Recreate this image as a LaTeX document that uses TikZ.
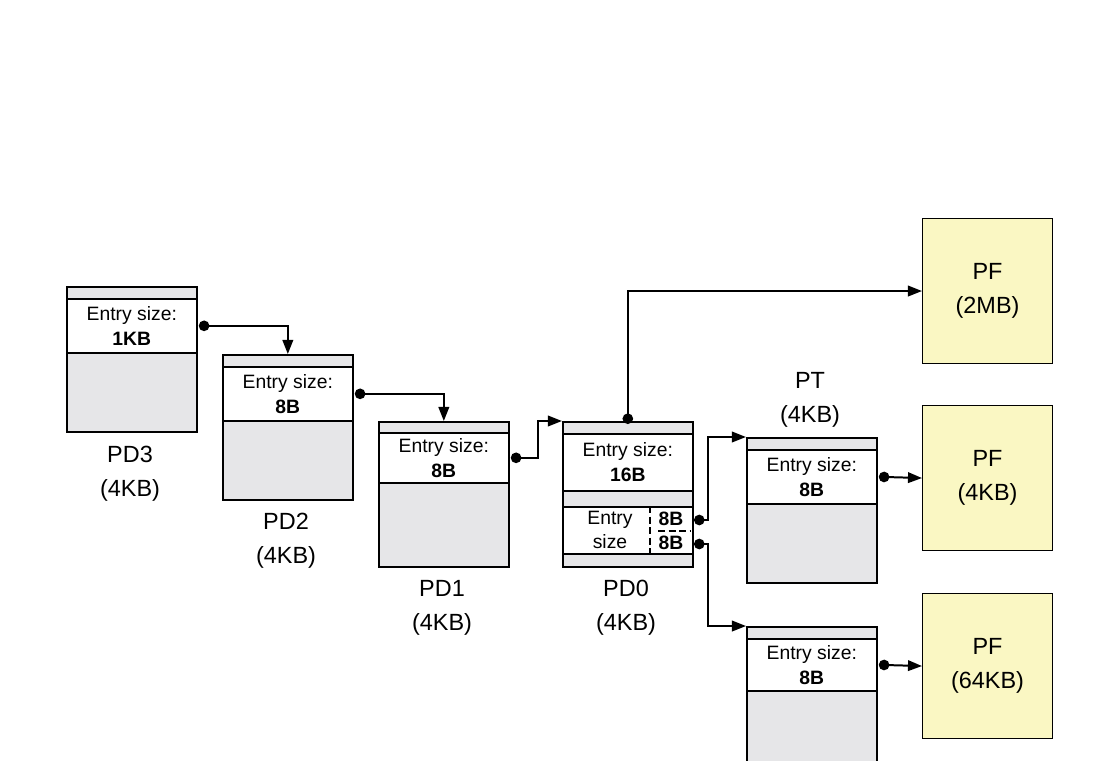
\documentclass[tikz,border=0pt]{standalone}
\usepackage{fontspec}
\setmainfont{Liberation Sans}
\usetikzlibrary{arrows.meta,positioning,calc}
\definecolor{tblgray}{HTML}{E6E6E8}
\definecolor{pfyellow}{HTML}{FAF7C3}

\begin{document}
\begin{tikzpicture}[
    x=0.03cm, y=-0.03cm,
    every node/.style={font=\fontsize{16.5}{19}\selectfont, inner sep=0pt},
    tbl/.style={rectangle, draw, fill=tblgray, anchor=north west, minimum width=3.9cm, minimum height=4.35cm, line width=1.4pt},
    entry/.style={rectangle, draw, fill=white, anchor=north west, minimum width=3.9cm, align=center, line width=1.4pt},
    page/.style={rectangle, draw, fill=pfyellow, anchor=north west, minimum width=3.9cm, minimum height=4.35cm, align=center, line width=0.9pt, font=\fontsize{20}{29}\selectfont},
    caption/.style={align=center, font=\fontsize{20}{29}\selectfont},
    link/.style={{Circle[length=9pt]}-{Triangle[length=12pt,width=9pt]}, line width=1.7pt}
]
    \useasboundingbox (0,0) rectangle (1100,760);

    % page directories
    \node[tbl] (pd3) at (66,286) {};
    \node[entry, minimum height=1.62cm] (pd3e) at (66,298) {Entry size:\\[2pt]\textbf{1KB}};
    \node[caption] (pd3l) at (130,474) {PD3\\(4KB)};

    \node[tbl] (pd2) at (222,354) {};
    \node[entry, minimum height=1.62cm] (pd2e) at (222,366) {Entry size:\\[2pt]\textbf{8B}};
    \node[caption] (pd2l) at (286,541) {PD2\\(4KB)};

    \node[tbl] (pd1) at (378,421) {};
    \node[entry, minimum height=1.5cm] (pd1e) at (378,432) {Entry size:\\[2pt]\textbf{8B}};
    \node[caption] (pd1l) at (442,608) {PD1\\(4KB)};

    \node[tbl] (pd0) at (562,421) {};
    \node[entry, minimum height=1.71cm] (pd0e) at (562,433) {Entry size:\\[2pt]\textbf{16B}};
    \node[entry, minimum height=1.41cm] (pd0f) at (562,506) {};
    \node[align=center] (pd0t) at (610,530) {Entry\\[2pt]size};
    \node[font=\fontsize{16.5}{19}\selectfont\bfseries] (e8a) at (671,519) {8B};
    \node[font=\fontsize{16.5}{19}\selectfont\bfseries] (e8b) at (671,543) {8B};
    \draw[dash pattern=on 6pt off 3pt, line width=1.3pt] (650,506) -- (650,553);
    \draw[dash pattern=on 6pt off 3pt, line width=1.3pt] (658,531) -- (691,531);
    \node[caption] (pd0l) at (626,608) {PD0\\(4KB)};

    % page tables
    \node[tbl] (pt) at (746,437) {};
    \node[entry, minimum height=1.62cm] (pte) at (746,449) {Entry size:\\[2pt]\textbf{8B}};
    \node[caption] (ptl) at (810,400) {PT\\(4KB)};

    \node[tbl] (pt2) at (746,626) {};
    \node[entry, minimum height=1.56cm] (pt2e) at (746,638) {Entry size:\\[2pt]\textbf{8B}};

    % page frames
    \node[page] (pf1) at (922,218) {PF\\(2MB)};
    \node[page] (pf2) at (922,405) {PF\\(4KB)};
    \node[page] (pf3) at (922,593) {PF\\(64KB)};

    \coordinate (d8a) at (694,520);
    \coordinate (d8b) at (694,544);

    \draw[link] ([xshift=1pt]pd3e.east) -| (pd2.north);
    \draw[link] ([xshift=1pt]pd2e.east) -| (pd1.north);
    \draw[link] ([xshift=1pt]pd1e.east) -- ++(27,0) |- (pd0.north west);
    \draw[link] ([yshift=-0.09cm]pd0.north) |- (pf1.west);
    \draw[link] (d8a) -- ++(14,0) |- (pt.north west);
    \draw[link] (d8b) -- ++(14,0) |- (pt2.north west);
    \draw[link] ([xshift=1pt]pte.east) -- (pf2.west);
    \draw[link] ([xshift=1pt]pt2e.east) -- (pf3.west);
\end{tikzpicture}
\end{document}
